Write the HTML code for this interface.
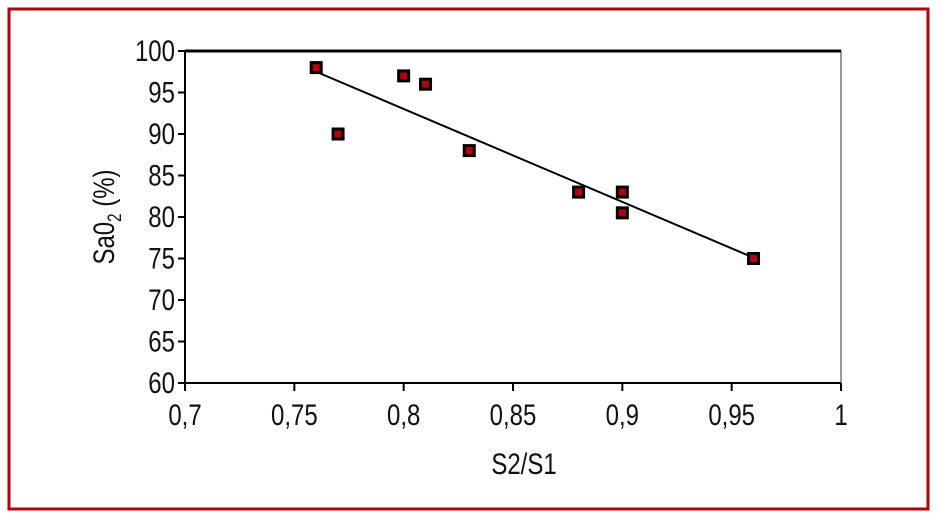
<!DOCTYPE html>
<html><head><meta charset="utf-8"><style>
html,body{margin:0;padding:0;background:#fff;}
svg{display:block;font-family:"Liberation Sans Narrow","Liberation Sans",sans-serif;}
</style></head><body>
<svg width="938" height="520" viewBox="0 0 938 520">
<rect x="9" y="9" width="919" height="500" fill="none" stroke="#b3000f" stroke-width="3"/>
<g id="plot"></g>
</svg>
<script>
const xTicks=[0.7,0.75,0.8,0.85,0.9,0.95,1];
const xTickLabels=["0,7","0,75","0,8","0,85","0,9","0,95","1"];
const yTicks=[60,65,70,75,80,85,90,95,100];
const xVals=[0.76,0.77,0.80,0.81,0.83,0.88,0.90,0.90,0.96];
const yVals=[98,90,97,96,88,83,83,80.5,75];
const trendX=[0.76,0.96];
const trendY=[97.5,75.1];
const L=185,R=841,T=51,B=383;
const sx=v=>L+(v-0.7)/0.3*(R-L);
const sy=v=>B-(v-60)/40*(B-T);
const NS="http://www.w3.org/2000/svg";
const g=document.getElementById('plot');
function mk(t,a){const e=document.createElementNS(NS,t);for(const k in a)e.setAttribute(k,a[k]);g.appendChild(e);return e;}
function txt(x,y,anchor){return mk('text',{transform:'translate('+x+','+y+') scale(0.8,1)','text-anchor':anchor,'font-size':30,fill:'#111'});}
let e=mk('rect',{x:L,y:T,width:R-L,height:B-T,fill:'none',stroke:'#777','stroke-width':1.5});


e=mk('line',{x1:L,y1:T,x2:R,y2:T,stroke:'#000','stroke-width':3});


e=mk('line',{x1:L,y1:T,x2:L,y2:B,stroke:'#000','stroke-width':2});


e=mk('line',{x1:L,y1:B,x2:R,y2:B,stroke:'#000','stroke-width':2});


xTicks.forEach((v,i)=>{
 let t=mk('line',{x1:sx(v),y1:B,x2:sx(v),y2:B+8,stroke:'#000','stroke-width':2});
 
 
 let tx=txt(sx(v),B+42,'middle');
 tx.textContent=xTickLabels[i];
 
 
});
yTicks.forEach(v=>{
 let t=mk('line',{x1:L-7,y1:sy(v),x2:L,y2:sy(v),stroke:'#000','stroke-width':2});
 
 
 let tx=txt(L-10,sy(v)+10,'end');
 tx.textContent=v;
 
 
});
e=mk('line',{x1:sx(trendX[0]),y1:sy(trendY[0]),x2:sx(trendX[1]),y2:sy(trendY[1]),stroke:'#000','stroke-width':2});


xVals.forEach((v,i)=>{
 let m=mk('rect',{x:sx(v)-5,y:sy(yVals[i])-5,width:10,height:10,fill:'#b3000f',stroke:'#000','stroke-width':3});
 
 
});
e=txt(524,474,'middle');
e.textContent='S2/S1';


e=mk('text',{transform:'translate(114,'+((T+B)/2)+') rotate(-90) scale(0.8,1)','text-anchor':'middle','font-size':30,fill:'#111'});
e.innerHTML='Sa0<tspan font-size="19" dy="7">2</tspan><tspan dy="-7"> (%)</tspan>';


</script>
</body></html>
